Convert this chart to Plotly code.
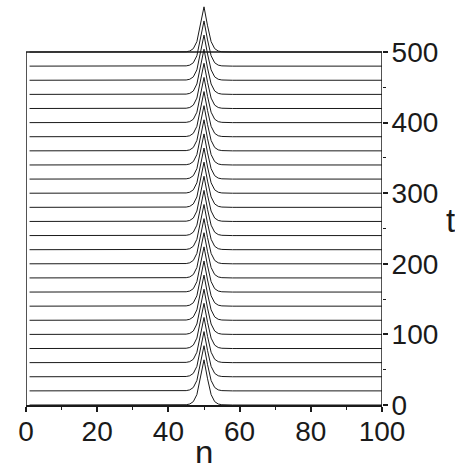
import plotly.graph_objects as go

# ---- data ----
times = [0, 20, 40, 60, 80, 100, 120, 140, 160, 180, 200, 220, 240,
         260, 280, 300, 320, 340, 360, 380, 400, 420, 440, 460, 480, 500]
sites = list(range(1, 101))           # n = 1 .. 100
peak_site = 50
peak_offsets = [-5, -4, -3, -2, -1, 0, 1, 2, 3, 4, 5]
peak_profile = [0.006, 0.022, 0.075, 0.23, 0.58, 1.0, 0.58, 0.23, 0.075, 0.022, 0.006]
peak_amplitude = 64                   # height of each peak in t-units

x_ticks = [0, 20, 40, 60, 80, 100]
t_ticks = [0, 100, 200, 300, 400, 500]

prof = dict(zip(peak_offsets, peak_profile))

fig = go.Figure()
for t in times:
    ys = [t + peak_amplitude * prof.get(n - peak_site, 0.0) for n in sites]
    fig.add_trace(go.Scatter(x=sites, y=ys, mode="lines",
                             line=dict(color="#1a1a1a", width=1),
                             showlegend=False, hoverinfo="skip"))

T_TOP = 566.6
axis_col = "#1a1a1a"
tick_font = dict(family="Liberation Sans, Arial, sans-serif", size=28, color="#1a1a1a")

fig.update_layout(
    width=455, height=463,
    margin=dict(l=26, r=73, t=5, b=58),
    paper_bgcolor="white", plot_bgcolor="white",
    xaxis=dict(range=[0, 100], showgrid=False, zeroline=False,
               showline=True, linecolor=axis_col, linewidth=1.5,
               tickvals=x_ticks, ticks="outside", ticklen=5, tickwidth=1.5,
               tickcolor=axis_col, tickfont=tick_font, ticklabelstandoff=-4,
               minor=dict(ticks="outside", ticklen=3, tickwidth=1.2,
                          tickcolor=axis_col, dtick=10, tick0=0)),
    yaxis=dict(range=[0, T_TOP], side="right", showgrid=False, zeroline=False,
               showline=False, tickvals=t_ticks, ticks="outside", ticklen=5,
               tickwidth=1.5, tickcolor=axis_col, tickfont=tick_font,
               ticklabelstandoff=-2,
               minor=dict(ticks="outside", ticklen=3, tickwidth=1.2,
                          tickcolor=axis_col, tickvals=[50, 150, 250, 350, 450])),
)

# box lines (left, top at t=500, right axis line)
for x0, y0, x1, y1 in [(0, 0, 0, 500), (0, 500, 100, 500), (100, 0, 100, 500)]:
    fig.add_shape(type="line", xref="x", yref="y", x0=x0, y0=y0, x1=x1, y1=y1,
                  line=dict(color=axis_col, width=1.5), layer="above")

title_font = dict(family="Liberation Sans, Arial, sans-serif", size=33, color="#1a1a1a")
fig.add_annotation(text="n", x=50, xref="x", y=0, yref="y", yanchor="top",
                   yshift=-27, showarrow=False, font=title_font)
fig.add_annotation(text="t", x=1, xref="paper", y=262, yref="y", xanchor="left",
                   xshift=62, showarrow=False, font=title_font)

fig.write_html("out.html")
